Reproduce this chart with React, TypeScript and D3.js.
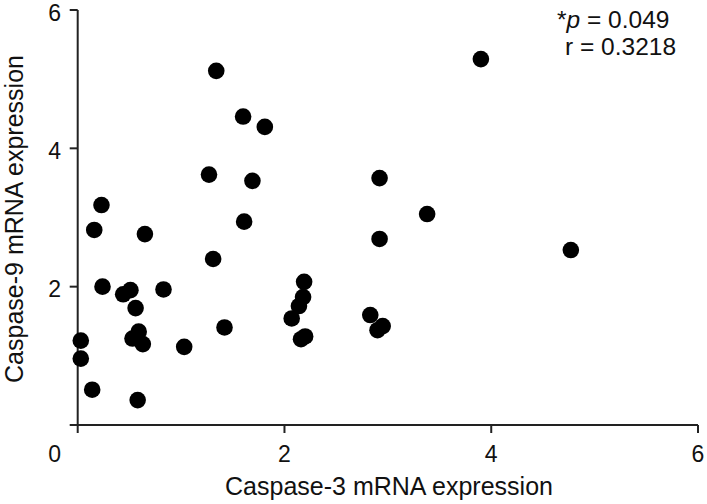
import React, { useEffect } from "react";
import * as d3 from "d3";

const caspase3: number[] = [3.90, 1.34, 1.60, 1.81, 1.27, 1.69, 0.23, 0.16, 0.65, 1.61, 1.31, 2.92, 3.38, 2.92, 4.77, 0.24, 0.83, 0.51, 0.44, 0.56, 0.59, 0.53, 0.63, 0.03, 0.03, 0.14, 0.58, 1.03, 1.42, 2.19, 2.18, 2.14, 2.07, 2.16, 2.20, 2.83, 2.90, 2.95];
const caspase9: number[] = [5.29, 5.12, 4.46, 4.31, 3.62, 3.53, 3.18, 2.82, 2.76, 2.94, 2.40, 3.57, 3.05, 2.69, 2.53, 2.00, 1.96, 1.95, 1.89, 1.69, 1.35, 1.25, 1.17, 1.22, 0.96, 0.51, 0.36, 1.13, 1.41, 2.07, 1.85, 1.72, 1.54, 1.24, 1.28, 1.59, 1.37, 1.43];
const xTicks: number[] = [0, 2, 4, 6];
const yTicks: number[] = [0, 2, 4, 6];
const xTitle = "Caspase-3 mRNA expression";
const yTitle = "Caspase-9 mRNA expression";
const pText = "0.049";
const rText = "r = 0.3218";

export default function App() {
  useEffect(() => {
    document.body.style.margin = "0";
  }, []);
  const W = 707, H = 504;
  const x = d3.scaleLinear().domain([0, 6]).range([77.7, 698]);
  const y = d3.scaleLinear().domain([0, 6]).range([425, 10]);
  const font = "Liberation Sans, Arial, Helvetica, sans-serif";
  const axisColor = "#222";
  const tickLen = 8;
  const pts = caspase3.map((v, i) => ({ x: v, y: caspase9[i] }));
  return (
    <svg width={W} height={H} style={{ display: "block", background: "#fff" }} fontFamily={font}>
      <line x1={x(0)} x2={x(6)} y1={y(0)} y2={y(0)} stroke={axisColor} strokeWidth={2} />
      <line x1={x(0)} x2={x(0)} y1={y(0)} y2={y(6)} stroke={axisColor} strokeWidth={2} />
      {xTicks.map((t) => (
        <line key={"xt" + t} x1={x(t)} x2={x(t)} y1={y(0)} y2={y(0) + tickLen} stroke={axisColor} strokeWidth={2} />
      ))}
      {yTicks.map((t) => (
        <line key={"yt" + t} x1={x(0) - tickLen} x2={x(0)} y1={y(t)} y2={y(t)} stroke={axisColor} strokeWidth={2} />
      ))}
      {xTicks.filter((t) => t !== 0).map((t) => (
        <text key={"xl" + t} x={x(t)} y={462} fontSize={23} textAnchor="middle" fill="#111">{t}</text>
      ))}
      {yTicks.filter((t) => t !== 0).map((t) => (
        <text key={"yl" + t} x={61} y={y(t) + 10.5} fontSize={23} textAnchor="end" fill="#111">{t}</text>
      ))}
      <text x={61} y={462} fontSize={23} textAnchor="end" fill="#111">0</text>
      <text x={389} y={495} fontSize={25} textAnchor="middle" fill="#111">{xTitle}</text>
      <text transform={`translate(23,${219}) rotate(-90)`} fontSize={25} textAnchor="middle" fill="#111">{yTitle}</text>
      <text x={557} y={28} fontSize={24.5} fill="#111">
        <tspan>*</tspan>
        <tspan fontStyle="italic">p</tspan>
        <tspan>{" = " + pText}</tspan>
      </text>
      <text x={565} y={55} fontSize={24.5} fill="#111">{rText}</text>
      {pts.map((p, i) => (
        <circle key={i} cx={x(p.x)} cy={y(p.y)} r={8.3} fill="#000" />
      ))}
    </svg>
  );
}
